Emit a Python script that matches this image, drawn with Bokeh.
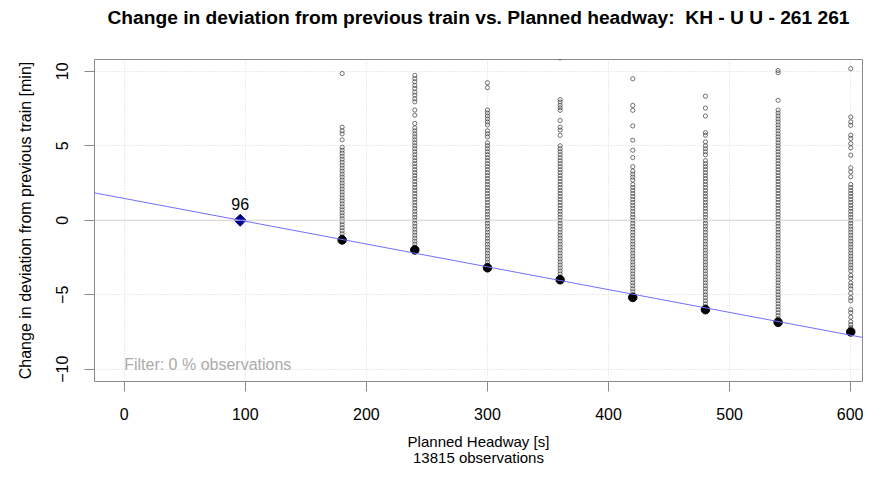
import numpy as np
from bokeh.plotting import figure
from bokeh.models import Range1d, FixedTicker, LinearAxis, Span, Slope, ColumnDataSource
from bokeh.core.properties import value
from bokeh.embed import file_html
from bokeh.resources import INLINE

# ---------------- data ----------------
title_text = "Change in deviation from previous train vs. Planned headway:\u00a0 KH - U U - 261 261"
x_label = "Planned Headway [s]"
y_label = "Change in deviation from previous train [min]"
n_observations = 13815
filter_pct = 0

headways = [180, 240, 300, 360, 420, 480, 540, 600]

obs_180 = [-1.32, -1.1, -0.9, -0.7, -0.5, -0.3, -0.1, 0.1, 0.3, 0.5, 0.7, 0.9, 1.1, 1.3,
           1.5, 1.7, 1.9, 2.1, 2.3, 2.5, 2.7, 2.9, 3.1, 3.3, 3.5, 3.7, 3.9, 4.1, 4.3, 4.5,
           4.7, 4.9, 5.4, 5.8, 6.0, 6.25, 9.85]
obs_240 = [-1.99, -1.8, -1.6, -1.4, -1.2, -1.0, -0.8, -0.6, -0.4, -0.2, 0.0, 0.2, 0.4, 0.6,
           0.8, 1.0, 1.2, 1.4, 1.6, 1.8, 2.0, 2.2, 2.4, 2.6, 2.8, 3.0, 3.2, 3.4, 3.6, 3.8,
           4.0, 4.2, 4.4, 4.6, 4.8, 5.0, 5.2, 5.4, 5.6, 5.8, 6.0, 6.2, 6.5, 7.05, 7.4, 7.95,
           8.15, 8.4, 8.6, 8.85, 9.05, 9.3, 9.5, 9.72]
obs_300 = [-3.19, -3.0, -2.8, -2.6, -2.4, -2.2, -2.0, -1.8, -1.6, -1.4, -1.2, -1.0, -0.8,
           -0.6, -0.4, -0.2, 0.0, 0.2, 0.4, 0.6, 0.8, 1.0, 1.2, 1.4, 1.6, 1.8, 2.0, 2.2, 2.4,
           2.6, 2.8, 3.0, 3.2, 3.4, 3.6, 3.8, 4.0, 4.2, 4.4, 4.6, 4.8, 5.0, 5.2, 5.6, 5.8,
           6.0, 6.4, 6.6, 6.8, 7.0, 7.2, 7.4, 8.9, 9.23]
obs_360 = [-3.99, -3.8, -3.6, -3.4, -3.2, -3.0, -2.8, -2.6, -2.4, -2.2, -2.0, -1.8, -1.6,
           -1.4, -1.2, -1.0, -0.8, -0.6, -0.4, -0.2, 0.0, 0.2, 0.4, 0.6, 0.8, 1.0, 1.2, 1.4,
           1.6, 1.8, 2.0, 2.2, 2.4, 2.6, 2.8, 3.0, 3.2, 3.4, 3.6, 3.8, 4.0, 4.2, 4.4, 4.6,
           4.8, 5.0, 5.7, 6.05, 6.25, 6.7, 7.38, 7.55, 7.72, 7.94, 8.1, 10.9]
obs_420 = [-5.18, -5.0, -4.8, -4.6, -4.4, -4.2, -4.0, -3.8, -3.6, -3.4, -3.2, -3.0, -2.8,
           -2.6, -2.4, -2.2, -2.0, -1.8, -1.6, -1.4, -1.2, -1.0, -0.8, -0.6, -0.4, -0.2,
           0.0, 0.2, 0.4, 0.6, 0.8, 1.0, 1.2, 1.4, 1.6, 1.8, 2.0, 2.2, 2.4, 2.7, 2.9, 3.1,
           3.3, 3.6, 4.21, 4.7, 5.37, 6.33, 7.38, 7.71, 9.5]
obs_480 = [-6.0, -5.8, -5.6, -5.4, -5.2, -5.0, -4.8, -4.6, -4.4, -4.2, -4.0, -3.8, -3.6,
           -3.4, -3.2, -3.0, -2.8, -2.6, -2.4, -2.2, -2.0, -1.8, -1.6, -1.4, -1.2, -1.0,
           -0.8, -0.6, -0.4, -0.2, 0.0, 0.2, 0.4, 0.6, 0.8, 1.0, 1.2, 1.4, 1.6, 1.8, 2.0,
           2.2, 2.4, 2.6, 2.8, 3.0, 3.2, 3.4, 3.6, 3.8, 4.0, 4.4, 4.6, 4.8, 5.0, 5.26, 5.71,
           5.88, 7.0, 7.53, 8.33]
obs_540 = [-6.85, -6.6, -6.4, -6.2, -6.0, -5.8, -5.6, -5.4, -5.2, -5.0, -4.8, -4.6, -4.4,
           -4.2, -4.0, -3.8, -3.6, -3.4, -3.2, -3.0, -2.8, -2.6, -2.4, -2.2, -2.0, -1.8,
           -1.6, -1.4, -1.2, -1.0, -0.8, -0.6, -0.4, -0.2, 0.0, 0.2, 0.4, 0.6, 0.8, 1.0,
           1.2, 1.4, 1.6, 1.8, 2.0, 2.2, 2.4, 2.6, 2.8, 3.0, 3.2, 3.4, 3.6, 3.8, 4.0, 4.2,
           4.4, 4.6, 4.8, 5.0, 5.2, 5.4, 5.6, 5.8, 6.0, 6.2, 6.4, 6.6, 6.8, 7.0, 7.2, 7.4,
           8.05, 9.9, 10.05]
obs_600 = [-7.49, -7.2, -7.0, -6.8, -6.5, -6.2, -6.0, -5.4, -5.2, -4.9, -4.6, -4.4, -4.2,
           -3.9, -3.7, -3.4, -3.2, -3.0, -2.8, -2.6, -2.4, -2.2, -2.0, -1.8, -1.6, -1.4,
           -1.2, -1.0, -0.8, -0.6, -0.4, -0.2, 0.0, 0.2, 0.4, 0.6, 0.8, 1.0, 1.2, 1.4, 1.6,
           1.8, 2.0, 2.2, 2.4, 2.92, 3.25, 3.52, 4.37, 4.86, 5.15, 5.49, 5.71, 6.37, 6.6,
           6.93, 10.17]

min_change = [-1.32, -1.99, -3.19, -3.99, -5.18, -6.00, -6.85, -7.49]

x_ticks = [0, 100, 200, 300, 400, 500, 600]
y_ticks = [-10, -5, 0, 5, 10]

# ---------------- derived ----------------
columns = [obs_180, obs_240, obs_300, obs_360, obs_420, obs_480, obs_540, obs_600]
xs, ys = [], []
for h, col in zip(headways, columns):
    xs += [h] * len(col)
    ys += col
slope, intercept = np.polyfit(headways, min_change, 1)
x_zero = -intercept / slope

FONT = "Liberation Sans"
GRID = "#d6d6d6"
BOX = "#8a8a8a"

p = figure(width=863, height=468, x_range=Range1d(-24.5, 609.7), y_range=Range1d(-10.82, 10.79),
           output_backend="svg", toolbar_location=None,
           min_border_left=94, min_border_right=1, min_border_top=59, min_border_bottom=86)

p.outline_line_color = BOX
p.outline_line_width = 1
p.background_fill_color = "white"
p.border_fill_color = "white"

for ax in (p.xaxis[0], p.yaxis[0]):
    ax.axis_line_color = None
    ax.major_tick_line_color = BOX
    ax.major_tick_out = 10
    ax.major_tick_in = 0
    ax.minor_tick_line_color = None
    ax.major_label_text_font = FONT
    ax.major_label_text_font_size = "16px"
    ax.major_label_text_color = "black"
    ax.axis_label_text_font = FONT
    ax.axis_label_text_font_style = "normal"
    ax.axis_label_text_color = "black"

p.xaxis[0].ticker = FixedTicker(ticks=x_ticks)
p.yaxis[0].ticker = FixedTicker(ticks=y_ticks)
p.xaxis[0].major_label_standoff = 16
p.xaxis[0].axis_label = x_label
p.xaxis[0].axis_label_text_font_size = "15px"
p.xaxis[0].axis_label_standoff = 10
p.yaxis[0].major_label_orientation = "vertical"
p.yaxis[0].major_label_standoff = 16
p.yaxis[0].axis_label = y_label
p.yaxis[0].axis_label_text_font_size = "16px"
p.yaxis[0].axis_label_standoff = 20

ax2 = LinearAxis(ticker=FixedTicker(ticks=[]), axis_label=f"{n_observations} observations",
                 axis_line_color=None, major_tick_out=0, major_tick_in=0, minor_tick_out=0,
                 major_label_standoff=0, axis_label_standoff=-4,
                 axis_label_text_font=FONT, axis_label_text_font_style="normal",
                 axis_label_text_font_size="15px", axis_label_text_color="black")
p.add_layout(ax2, "below")

tax = LinearAxis(ticker=FixedTicker(ticks=[]), axis_label=title_text,
                 axis_line_color=None, major_tick_out=0, major_tick_in=0, minor_tick_out=0,
                 major_label_standoff=0, axis_label_standoff=32,
                 axis_label_text_font=FONT, axis_label_text_font_style="bold",
                 axis_label_text_font_size="19.2px", axis_label_text_color="black")
p.add_layout(tax, "above")

p.xgrid.ticker = FixedTicker(ticks=x_ticks)
p.ygrid.ticker = FixedTicker(ticks=y_ticks)
for g in (p.xgrid[0], p.ygrid[0]):
    g.grid_line_color = GRID
    g.grid_line_dash = "1 2"
    g.grid_line_width = 1

p.add_layout(Span(location=0, dimension="width", line_color="#d4d4d4", line_width=1))

p.add_layout(Slope(gradient=slope, y_intercept=intercept, line_color="#7070ff", line_width=1))

src = ColumnDataSource(dict(x=xs, y=ys))
p.scatter("x", "y", source=src, marker="circle", size=4.2, fill_color=None,
          line_color="#3a3a3a", line_width=0.7)

p.scatter(headways, min_change, marker="circle", size=8.5, fill_color="black", line_color="black")

p.scatter([x_zero], [0], marker="square", angle=np.pi / 4, size=8.5, fill_color="#00008b",
          line_color="#00008b")
p.text([x_zero], [0], text=[f"{x_zero:.0f}"], text_font=value(FONT), text_font_size="16px",
       text_align="center", text_baseline="middle", y_offset=-16, text_color="black")

p.text([0], [-9.68], text=[f"Filter: {filter_pct} % observations"], text_font=value(FONT),
       text_font_size="16px", text_align="left", text_baseline="middle", text_color="#ababab")

open("out.html", "w").write(file_html(p, INLINE))
